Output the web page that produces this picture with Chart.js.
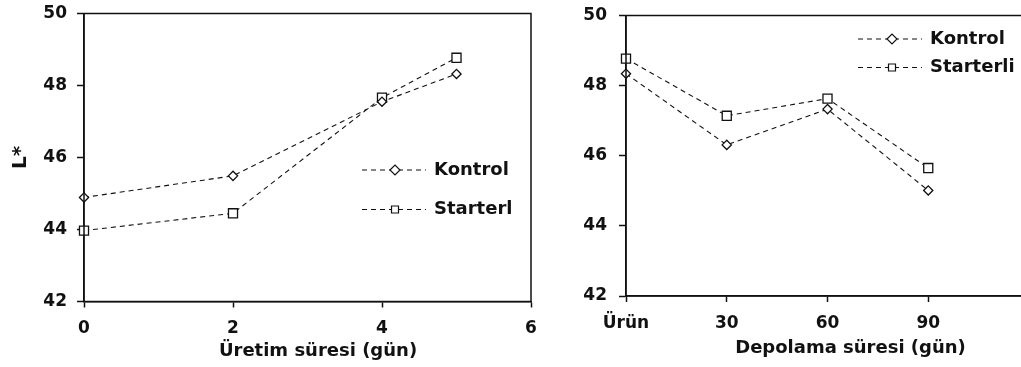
<!DOCTYPE html>
<html>
<head>
<meta charset="utf-8">
<script src="https://cdn.jsdelivr.net/npm/chart.js@4.4.1/dist/chart.umd.min.js"></script>
<style>
  html, body { margin: 0; padding: 0; background: #fff; overflow: hidden; }
  body { width: 1021px; height: 367px; position: relative; }
  #uretim { position: absolute; left: 0; top: 0; }
  #depolama { position: absolute; left: 540px; top: 0; }
</style>
</head>
<body>
<canvas id="uretim" width="545" height="367"></canvas>
<canvas id="depolama" width="500" height="367"></canvas>
<script>
// L* during production (days)
const uretimDays = [0, 2, 4, 5];
const uretimKontrol = [44.89, 45.49, 47.55, 48.32];
const uretimStarterl = [43.97, 44.45, 47.66, 48.77];

// L* during storage (days), first point is the fresh product
const depolamaDays = [0, 30, 60, 90];
const depolamaLabels = ['Ürün', '30', '60', '90'];
const depolamaKontrol = [48.34, 46.31, 47.33, 45.01];
const depolamaStarterli = [48.77, 47.14, 47.63, 45.65];

const FONT = "'DejaVu Sans', sans-serif";
const INK = '#111';

const toPoints = (xs, ys) => xs.map((x, i) => ({ x, y: ys[i] }));

function series(label, xs, ys, style, radius) {
  return {
    label,
    data: toPoints(xs, ys),
    borderColor: INK,
    borderWidth: 1.1,
    borderDash: [5, 4],
    tension: 0,
    fill: false,
    clip: false,
    pointStyle: style,
    pointRadius: radius,
    pointBorderWidth: 1.3,
    pointBorderColor: INK,
    pointBackgroundColor: '#fff',
  };
}

// box around the plot area
const frame = {
  id: 'frame',
  afterDraw(chart) {
    const { ctx, chartArea: a } = chart;
    ctx.save();
    ctx.strokeStyle = INK;
    ctx.lineWidth = 1.5;
    ctx.strokeRect(a.left, a.top, a.right - a.left, a.bottom - a.top);
    ctx.restore();
  }
};

// legend drawn inside the plot: dashed line, marker, label
const lineLegend = {
  id: 'lineLegend',
  afterDraw(chart, args, opts) {
    const { ctx } = chart;
    ctx.save();
    chart.data.datasets.forEach((ds, i) => {
      const y = opts.rows[i];
      ctx.strokeStyle = INK;
      ctx.lineWidth = 1.1;
      ctx.setLineDash([5, 4]);
      ctx.beginPath();
      ctx.moveTo(opts.x0, y);
      ctx.lineTo(opts.x1, y);
      ctx.stroke();
      ctx.setLineDash([]);
      ctx.fillStyle = '#fff';
      ctx.lineWidth = 1.2;
      ctx.beginPath();
      const m = opts.marker;
      if (ds.pointStyle === 'rectRot') {
        ctx.moveTo(m - 5, y);
        ctx.lineTo(m, y - 5);
        ctx.lineTo(m + 5, y);
        ctx.lineTo(m, y + 5);
        ctx.closePath();
      } else {
        ctx.rect(m - 3.5, y - 3.5, 7, 7);
      }
      ctx.fill();
      ctx.stroke();
      ctx.fillStyle = INK;
      ctx.font = 'bold 18px ' + FONT;
      ctx.textBaseline = 'middle';
      ctx.textAlign = 'left';
      ctx.fillText(ds.label, opts.textX, y);
    });
    ctx.restore();
  }
};

// x axis caption placed under the tick labels
const caption = {
  id: 'caption',
  afterDraw(chart, args, opts) {
    const { ctx } = chart;
    ctx.save();
    ctx.fillStyle = INK;
    ctx.font = 'bold 18px ' + FONT;
    ctx.textAlign = 'center';
    ctx.textBaseline = 'alphabetic';
    ctx.fillText(opts.text, opts.x, opts.y);
    ctx.restore();
  }
};

function axisBase() {
  return {
    border: { display: true, color: INK, width: 1.5 },
    grid: { display: true, drawOnChartArea: false, drawTicks: true, tickLength: 7, tickColor: INK, tickWidth: 1.5 },
  };
}

// the layout padding alone decides where the plot area sits
function noEdgePadding(s) {
  s.paddingTop = 0;
  s.paddingBottom = 0;
  s.paddingLeft = 0;
  s.paddingRight = 0;
}

function makeChart(id, cfg) {
  return new Chart(document.getElementById(id), {
    type: 'line',
    data: { datasets: cfg.datasets },
    plugins: [frame, lineLegend, caption],
    options: {
      responsive: false,
      animation: false,
      layout: { padding: cfg.padding },
      plugins: {
        legend: { display: false },
        tooltip: { enabled: false },
        lineLegend: cfg.legend,
        caption: cfg.caption,
      },
      scales: {
        x: Object.assign(axisBase(), {
          type: 'linear',
          min: cfg.xMin,
          max: cfg.xMax,
          afterFit: s => { s.height = cfg.xHeight; noEdgePadding(s); },
          grid: Object.assign(axisBase().grid, { tickLength: 6 }),
          ticks: {
            stepSize: cfg.xStep,
            autoSkip: false,
            maxRotation: 0,
            padding: cfg.xPad,
            color: INK,
            font: { family: FONT, size: 17, weight: 'bold' },
            callback: cfg.xLabel,
          },
        }),
        y: Object.assign(axisBase(), {
          min: 42,
          max: 50,
          afterFit: s => { s.width = cfg.yWidth; noEdgePadding(s); },
          title: cfg.yTitle,
          ticks: {
            stepSize: 2,
            padding: cfg.yPad,
            color: INK,
            font: { family: FONT, size: 17, weight: 'bold' },
          },
        }),
      },
    },
  });
}

makeChart('uretim', {
  datasets: [
    series('Kontrol', uretimDays, uretimKontrol, 'rectRot', 4.6),
    series('Starterl', uretimDays, uretimStarterl, 'rect', 6.4),
  ],
  padding: { left: 0, top: 13.5, right: 14, bottom: 0 },
  xMin: 0, xMax: 6, xStep: 2, xHeight: 65.5, xPad: 11,
  xLabel: v => String(v),
  yWidth: 84, yPad: 10,
  yTitle: {
    display: true, text: 'L*', color: INK,
    font: { family: FONT, size: 20, weight: 'bold' },
    padding: { top: 9, bottom: 0 },
  },
  legend: { x0: 362, x1: 426, marker: 395, textX: 434, rows: [170, 209.5] },
  caption: { text: 'Üretim süresi (gün)', x: 318, y: 356 },
});

makeChart('depolama', {
  datasets: [
    series('Kontrol', depolamaDays, depolamaKontrol, 'rectRot', 4.6),
    series('Starterli', depolamaDays, depolamaStarterli, 'rect', 6.4),
  ],
  padding: { left: 0, top: 15.5, right: 11, bottom: 0 },
  xMin: 0, xMax: 120, xStep: 30, xHeight: 71, xPad: 11,
  xLabel: v => {
    const i = depolamaDays.indexOf(v);
    return i >= 0 ? depolamaLabels[i] : '';
  },
  yWidth: 86, yPad: 12,
  yTitle: { display: false },
  legend: { x0: 318, x1: 382, marker: 352, textX: 390, rows: [39, 67.5] },
  caption: { text: 'Depolama süresi (gün)', x: 310.5, y: 353 },
});
</script>
</body>
</html>
